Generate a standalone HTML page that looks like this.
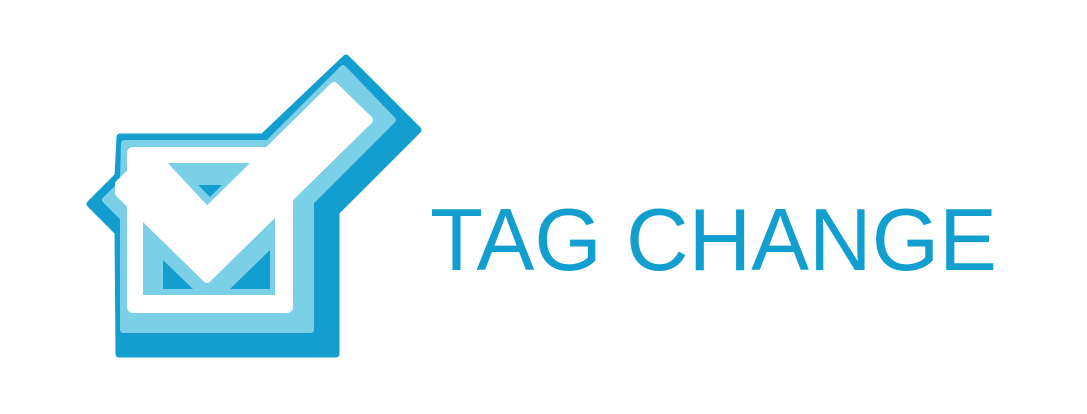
<!DOCTYPE html>
<html><head><meta charset="utf-8"><style>
html,body{margin:0;padding:0;background:#fff;width:1087px;height:414px;overflow:hidden}
svg{display:block}
</style></head><body>
<svg width="1087" height="414" viewBox="0 0 1087 414">
  <g>
    <polygon points="120,137 263,137 346,58 418,130 336,212 336,354 119,354 118,232 90,204 118,176" fill="#139ecf" stroke="#139ecf" stroke-width="7" stroke-linejoin="round"/>
    <polygon points="124,143 268,143 343,68 393,120 311,202 311,330 123,330 123,218 105,200 123,182" fill="#7bd0e8" stroke="#7bd0e8" stroke-width="6" stroke-linejoin="round"/>
    <rect x="127" y="147" width="166" height="166" rx="6" fill="#fff"/>
    <rect x="143" y="163" width="132" height="132" fill="#7bd0e8"/>
    <polygon points="198,185 222,185 210,197" fill="#139ecf"/>
    <polygon points="163,260 163,289 193,289" fill="#139ecf"/>
    <polygon points="270,250 270,289 230,289" fill="#139ecf"/>
    <polygon points="207,211 334,86 369,120 207,279 123,197 119,193 119,184 152,152" fill="#fff" stroke="#fff" stroke-width="8" stroke-linejoin="round"/>
  </g>
  <text x="430" y="270" font-family="Liberation Sans, Arial, sans-serif" font-size="88" fill="#129ecf" textLength="567" lengthAdjust="spacingAndGlyphs">TAG CHANGE</text>
</svg>
</body></html>
